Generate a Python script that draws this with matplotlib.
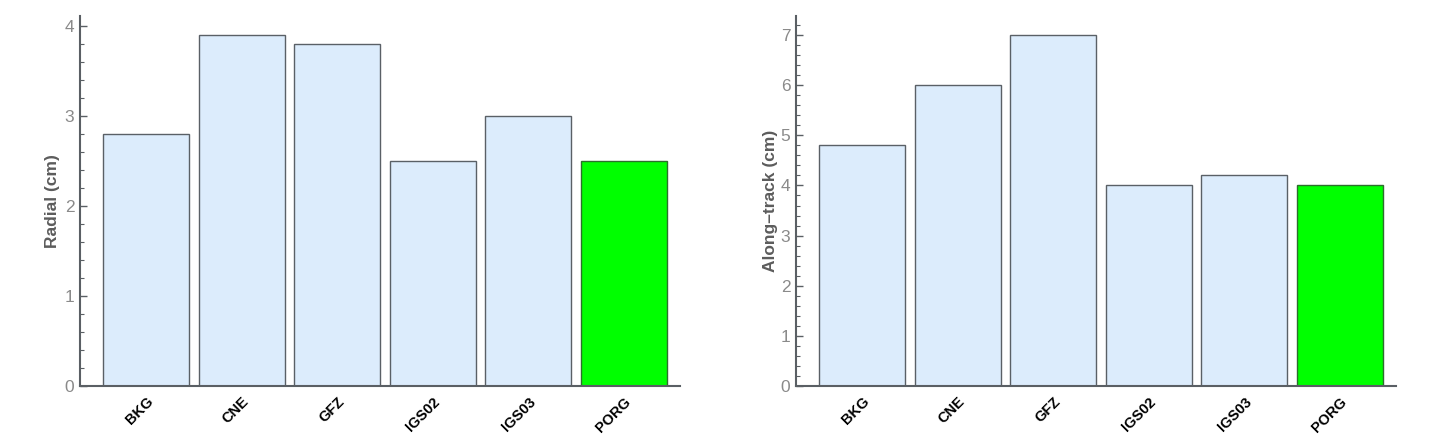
import matplotlib
matplotlib.use("Agg")
import matplotlib.pyplot as plt
from matplotlib.ticker import MultipleLocator

plt.rcParams['font.family'] = ['Liberation Sans', 'DejaVu Sans']

centers = ["BKG", "CNE", "GFZ", "IGS02", "IGS03", "PORG"]
radial = [2.8, 3.9, 3.8, 2.5, 3.0, 2.5]
along_track = [4.8, 6.0, 7.0, 4.0, 4.2, 4.0]

light = "#dcecfc"
green = "#00ff00"
edge = "#5a6066"
green_edge = "#2d6e2d"
axis_col = "#5a5f64"
tick_col = "#8a8a8a"

fig = plt.figure(figsize=(14.4, 4.46), dpi=100)
W, H = 1440, 446
ax1 = fig.add_axes([80 / W, (446 - 386) / H, 600 / W, 370 / H])
ax2 = fig.add_axes([796 / W, (446 - 386) / H, 600 / W, 370 / H])

def draw(ax, vals, ylabel, ymax, ylabel_x):
    x = list(range(len(centers)))
    colors = [green if c == "PORG" else light for c in centers]
    edges = [green_edge if c == "PORG" else edge for c in centers]
    ax.bar(x, vals, width=0.9, color=colors, edgecolor=edges, linewidth=1.0, zorder=2)
    ax.set_xlim(-0.695, 5.59)
    ax.set_ylim(0, ymax)
    for s in ["top", "right"]:
        ax.spines[s].set_visible(False)
    for s in ["left", "bottom"]:
        ax.spines[s].set_color(axis_col)
        ax.spines[s].set_linewidth(1.5)
    ax.yaxis.set_major_locator(MultipleLocator(1))
    ax.yaxis.set_minor_locator(MultipleLocator(0.2))
    ax.tick_params(axis='y', which='major', direction='in', length=5, width=1.0,
                   color=axis_col, labelcolor=tick_col, labelsize=12.5, pad=4)
    ax.tick_params(axis='y', which='minor', direction='in', length=3, width=0.8,
                   color=axis_col)
    ax.set_xticks(x)
    ax.set_xticklabels(centers, rotation=45, ha='right', va='top',
                       rotation_mode='anchor', fontweight='bold', fontsize=10.5,
                       color='black')
    ax.tick_params(axis='x', direction='in', length=3, width=1.0, color=axis_col, pad=6)
    ax.set_ylabel(ylabel, fontsize=12.5, fontweight='bold', color="#5c5c5c")
    ax.yaxis.set_label_coords(ylabel_x, 0.5)

draw(ax1, radial, "Radial (cm)", 4.11, -0.033)
draw(ax2, along_track, "Along\u2013track (cm)", 7.38, -0.03)

fig.savefig("out.png", dpi=100, facecolor="white")
